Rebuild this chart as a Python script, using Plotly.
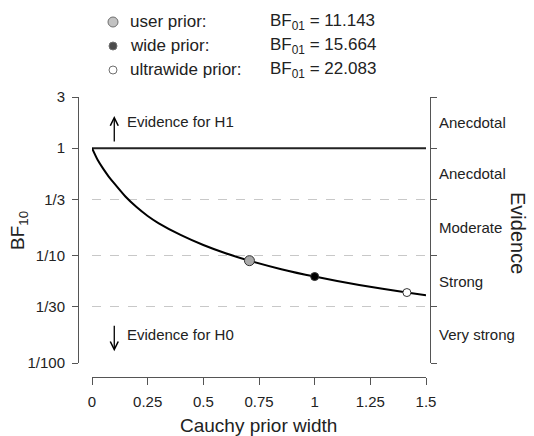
import numpy as np
import plotly.graph_objects as go

# ---------------- data ----------------
prior_width = [0, 0.025, 0.05, 0.075, 0.1, 0.15, 0.2, 0.25, 0.3, 0.4, 0.5, 0.6,
               0.7071, 0.85, 1.0, 1.2, 1.4142, 1.5]
bf10_curve = [1.0, 0.78, 0.645, 0.545, 0.47, 0.355, 0.283, 0.234, 0.200, 0.155,
              0.1256, 0.1052, 0.0897, 0.0748, 0.0638, 0.0533, 0.0453, 0.0427]

prior_names = ["user prior:", "wide prior:", "ultrawide prior:"]
prior_points_x = [0.7071, 1.0, 1.4142]
bf01_values = [11.143, 15.664, 22.083]
marker_fill = ["#a9a9a9", "#000000", "#ffffff"]
marker_size = [10, 8, 8]

y_tickvals = [3, 1, 1/3, 1/10, 1/30, 1/100]
y_ticktext = ["3", "1", "1/3", "1/10", "1/30", "1/100"]
x_tickvals = [0, 0.25, 0.5, 0.75, 1.0, 1.25, 1.5]
x_ticktext = ["0", "0.25", "0.5", "0.75", "1", "1.25", "1.5"]
evidence_labels = ["Anecdotal", "Anecdotal", "Moderate", "Strong", "Very strong"]

FONT = "Liberation Sans, Arial, sans-serif"
W, H = 534, 436
AXCOL = "#555555"
TXT = "#222222"

fig = go.Figure()

# BF = 1 reference line
fig.add_trace(go.Scatter(x=[x_tickvals[0], x_tickvals[-1]], y=[1, 1], mode="lines",
                         line=dict(color="#222222", width=2), hoverinfo="skip",
                         showlegend=False))
# curve
fig.add_trace(go.Scatter(x=prior_width, y=bf10_curve, mode="lines",
                         line=dict(color="black", width=2, shape="spline", smoothing=0.6),
                         hoverinfo="skip", showlegend=False))
# prior points on curve
for i in range(3):
    fig.add_trace(go.Scatter(x=[prior_points_x[i]], y=[1 / bf01_values[i]], mode="markers",
                             marker=dict(color=marker_fill[i], size=marker_size[i],
                                         line=dict(color="#333333", width=1)),
                             hoverinfo="skip", showlegend=False))
# invisible trace so the right axis is drawn
fig.add_trace(go.Scatter(x=[0], y=[1], yaxis="y2", mode="markers",
                         marker=dict(opacity=0), hoverinfo="skip", showlegend=False))

# legend markers on an auxiliary axis (rows 0,1,2)
fig.add_trace(go.Scatter(x=[0, 0, 0], y=[0, 1, 2], xaxis="x3", yaxis="y3", mode="markers",
                         marker=dict(color=marker_fill, size=marker_size,
                                     line=dict(color="#333333", width=1)),
                         hoverinfo="skip", showlegend=False))

xdom = [92 / W, 426 / W]
ydom = [(H - 363) / H, (H - 97) / H]
ylog_range = [np.log10(y_tickvals[-1]), np.log10(y_tickvals[0])]

fig.update_layout(
    width=W, height=H,
    margin=dict(l=0, r=0, t=0, b=0),
    paper_bgcolor="white", plot_bgcolor="white",
    font=dict(family=FONT, color=TXT, size=15),
    xaxis=dict(domain=xdom, range=[x_tickvals[0], x_tickvals[-1]], anchor="free",
               position=(H - 377) / H, tickmode="array", tickvals=x_tickvals,
               ticktext=x_ticktext, ticks="outside", ticklen=7, tickcolor=AXCOL,
               showline=True, linecolor=AXCOL, linewidth=1, showgrid=False,
               zeroline=False, ticklabelstandoff=4, automargin=False,
               tickfont=dict(size=15, color=TXT)),
    yaxis=dict(domain=ydom, type="log", range=ylog_range, anchor="free",
               position=78 / W, tickmode="array", tickvals=y_tickvals,
               ticktext=y_ticktext, ticks="outside", ticklen=6, tickcolor=AXCOL,
               showline=True, linecolor=AXCOL, linewidth=1, showgrid=True,
               gridcolor="#c8c8c8", griddash="dash", gridwidth=1, zeroline=False,
               ticklabelstandoff=4, automargin=False,
               tickfont=dict(size=15, color=TXT)),
    yaxis2=dict(domain=ydom, type="log", range=ylog_range, overlaying="y",
                side="right", anchor="free", position=430 / W, tickmode="array",
                tickvals=y_tickvals, showticklabels=False, ticks="outside",
                ticklen=6, tickcolor=AXCOL, showline=True, linecolor=AXCOL,
                linewidth=1, showgrid=False, zeroline=False, automargin=False),
    xaxis3=dict(domain=[103 / W, 123 / W], range=[-1, 1], visible=False,
                anchor="y3", fixedrange=True),
    yaxis3=dict(domain=[(H - 82) / H, (H - 10) / H], range=[2.5, -0.5],
                visible=False, anchor="x3", fixedrange=True),
    showlegend=False,
)

ann = []
# legend texts
for i in range(3):
    ann.append(dict(x=128 / W, y=i, xref="paper", yref="y3", text=prior_names[i],
                    showarrow=False, xanchor="left", yanchor="middle",
                    font=dict(size=17, color=TXT)))
    ann.append(dict(x=268 / W, y=i, xref="paper", yref="y3",
                    text="BF<sub>01</sub> = %.3f" % bf01_values[i],
                    showarrow=False, xanchor="left", yanchor="middle",
                    font=dict(size=17, color=TXT)))
# evidence labels (between ticks on the right axis)
for i, lab in enumerate(evidence_labels):
    ymid = (np.log10(y_tickvals[i]) + np.log10(y_tickvals[i + 1])) / 2
    ann.append(dict(x=437 / W, y=ymid, xref="paper", yref="y", text=lab,
                    showarrow=False, xanchor="left", yanchor="middle",
                    font=dict(size=15, color=TXT)))
# arrows (open heads) and evidence-direction text
ann.append(dict(x=0.1, y=0.30, xref="x", yref="y", text="", showarrow=True,
                ax=0, ay=27, arrowhead=5, arrowsize=1.2, arrowwidth=1.3,
                arrowcolor="black", standoff=0, startstandoff=0))
ann.append(dict(x=0.15, y=0.25, xref="x", yref="y", text="Evidence for H1",
                showarrow=False, xanchor="left", yanchor="middle",
                font=dict(size=15, color=TXT)))
ann.append(dict(x=0.1, y=-1.89, xref="x", yref="y", text="", showarrow=True,
                ax=0, ay=-27, arrowhead=5, arrowsize=1.2, arrowwidth=1.3,
                arrowcolor="black", standoff=0, startstandoff=0))
ann.append(dict(x=0.15, y=-1.73, xref="x", yref="y", text="Evidence for H0",
                showarrow=False, xanchor="left", yanchor="middle",
                font=dict(size=15, color=TXT)))
# axis titles
ann.append(dict(x=258 / W, y=(H - 425) / H, xref="paper", yref="paper",
                text="Cauchy prior width", showarrow=False, xanchor="center",
                yanchor="middle", font=dict(size=19, color=TXT)))
ann.append(dict(x=19 / W, y=(H - 231) / H, xref="paper", yref="paper",
                text="BF<sub>10</sub>", showarrow=False, textangle=-90,
                xanchor="center", yanchor="middle", font=dict(size=19, color=TXT)))
ann.append(dict(x=518 / W, y=(H - 233) / H, xref="paper", yref="paper",
                text="Evidence", showarrow=False, textangle=90,
                xanchor="center", yanchor="middle", font=dict(size=20, color=TXT)))
fig.update_layout(annotations=ann)

fig.write_html("out.html")
